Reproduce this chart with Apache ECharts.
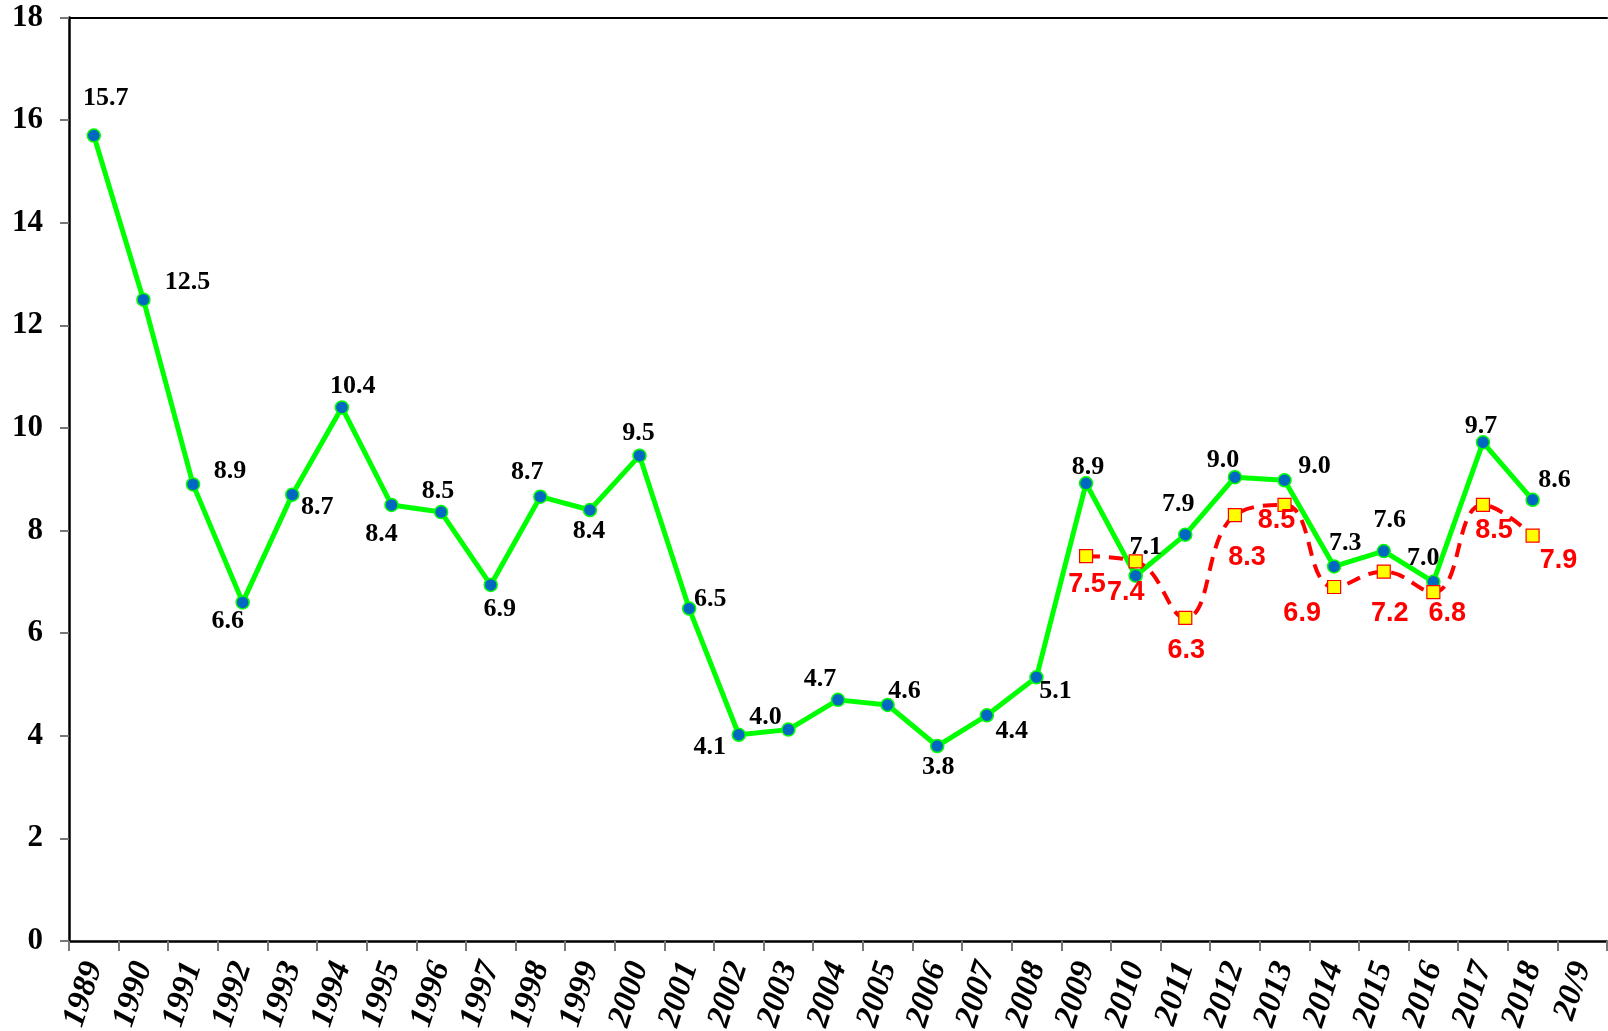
<!DOCTYPE html>
<html>
<head>
<meta charset="utf-8">
<script src="https://cdn.jsdelivr.net/npm/echarts@6/dist/echarts.min.js"></script>
<style>
html,body{margin:0;padding:0;background:#fff;}
#chart{width:1608px;height:1031px;}
</style>
</head>
<body>
<div id="chart"></div>
<script>
const categories = ['1989','1990','1991','1992','1993','1994','1995','1996','1997','1998','1999','2000','2001','2002','2003','2004','2005','2006','2007','2008','2009','2010','2011','2012','2013','2014','2015','2016','2017','2018','20/9'];
const greenValues = [15.7,12.5,8.9,6.6,8.7,10.4,8.5,8.36,6.94,8.66,8.4,9.46,6.48,4.02,4.12,4.7,4.6,3.8,4.4,5.14,8.92,7.12,7.92,9.04,8.98,7.3,7.6,7.0,9.72,8.6,null];
const greenLabels = ['15.7','12.5','8.9','6.6','8.7','10.4','8.4','8.5','6.9','8.7','8.4','9.5','6.5','4.1','4.0','4.7','4.6','3.8','4.4','5.1','8.9','7.1','7.9','9.0','9.0','7.3','7.6','7.0','9.7','8.6',''];
const redValues = [null,null,null,null,null,null,null,null,null,null,null,null,null,null,null,null,null,null,null,null,7.5,7.4,6.3,8.3,8.5,6.9,7.2,6.8,8.5,7.9,null];
const redLabels = ['','','','','','','','','','','','','','','','','','','','','7.5','7.4','6.3','8.3','8.5','6.9','7.2','6.8','8.5','7.9',''];
const yTicks = [0,2,4,6,8,10,12,14,16,18];

// label offsets (style only)
const greenOff = [[12,-37],[44,-17],[37,-13],[-15,19],[25,13],[11,-21],[-10,29],[-3,-21],[9,24],[-13,-24],[-1,21],[-1,-22],[21,-9],[-29,13],[-23,-12],[-18,-21],[17,-14],[1,21],[25,16],[19,14],[2,-16],[10,-28],[-7,-30],[-12,-17],[30,-14],[11,-23],[6,-31],[-10,-24],[-2,-16],[22,-19],[0,0]];
const redOff = {20:[1,28],21:[-10,31],22:[1,33],23:[12,42],24:[-8,16],25:[-32,27],26:[6,42],27:[14,21],28:[11,26],29:[26,25]};

const chart = echarts.init(document.getElementById('chart'));
const greenData = greenValues.map((v,i)=>({
  value: v,
  label: {show: v!=null, position:'inside', offset: greenOff[i], formatter: greenLabels[i]}
}));
const redData = redValues.map((v,i)=>({
  value: v,
  label: {show: v!=null, position:'inside', offset: redOff[i] || [0,0], formatter: redLabels[i]}
}));

chart.setOption({
  animation:false,
  backgroundColor:'#fff',
  grid:{left:69, top:17.5, right:1, bottom:90, containLabel:false, outerBoundsMode:'none'},
  xAxis:[{
    type:'category', data:categories, boundaryGap:true,
    axisLine:{lineStyle:{color:'#000', width:2.5}},
    axisTick:{show:true, length:10, lineStyle:{color:'#777', width:2}},
    axisLabel:{rotate:72, interval:0, margin:22, color:'#000',
      fontFamily:'Liberation Serif', fontWeight:'bold', fontStyle:'italic', fontSize:33}
  },{
    type:'category', data:categories, position:'top',
    axisLine:{lineStyle:{color:'#000', width:2}},
    axisTick:{show:false}, axisLabel:{show:false}
  }],
  yAxis:{
    type:'value', min:0, max:18, interval:2,
    axisLine:{show:true, lineStyle:{color:'#000', width:2.5}},
    axisTick:{show:true, length:9, lineStyle:{color:'#777', width:2}},
    splitLine:{show:false},
    axisLabel:{margin:26, color:'#000', fontFamily:'Liberation Serif', fontWeight:'bold', fontSize:31,
      formatter:(v)=> yTicks.includes(v) ? String(v) : ''}
  },
  series:[{
    type:'line', data:greenData, z:2,
    lineStyle:{color:'#00FF00', width:5},
    symbol:'circle', symbolSize:13,
    itemStyle:{color:'#0068C0', borderColor:'#00FF00', borderWidth:1.5},
    label:{color:'#000', fontFamily:'Liberation Serif', fontWeight:'bold', fontSize:26},
    connectNulls:false
  },{
    type:'line', data:redData, z:3, smooth:0.45,
    lineStyle:{color:'#FF0000', width:4, type:[14,9]},
    symbol:'rect', symbolSize:13,
    itemStyle:{color:'#FFFF00', borderColor:'#FF0000', borderWidth:1.2},
    label:{color:'#FF0000', fontFamily:'Liberation Sans', fontWeight:'bold', fontSize:27}
  }]
});
</script>
</body>
</html>
